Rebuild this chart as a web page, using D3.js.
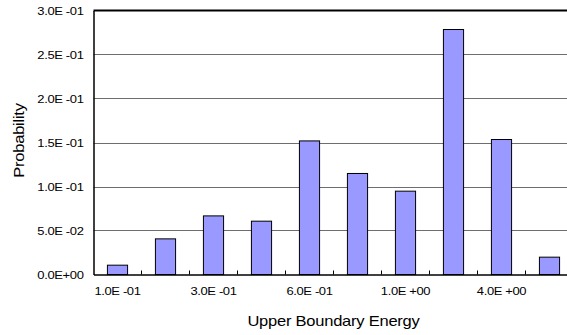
<!DOCTYPE html>
<html>
<head>
<meta charset="utf-8">
<script src="https://cdn.jsdelivr.net/npm/d3@7"></script>
<style>
  body { margin: 0; background: #fff; }
  svg { display: block; font-family: "Liberation Sans", Arial, sans-serif; }
</style>
</head>
<body>
<script>
    var w = 567;
    var h = 335;

    // categories (upper boundary energy), only every other one is labelled
    var categories = ["1.0E -01", "2.0E -01", "3.0E -01", "4.0E -01", "6.0E -01",
                      "8.0E -01", "1.0E +00", "2.0E +00", "4.0E +00", "6.0E +00"];
    var probability = [0.0106, 0.0405, 0.0666, 0.0606, 0.1518,
                       0.1148, 0.0947, 0.2784, 0.1534, 0.0197];
    var yTickValues = [0, 0.05, 0.10, 0.15, 0.20, 0.25, 0.30];
    var yTickLabels = ["0.0E+00", "5.0E -02", "1.0E -01", "1.5E -01", "2.0E -01", "2.5E -01", "3.0E -01"];

    var plotLeft = 93.5, plotRight = 573.5, plotTop = 10.5, plotBottom = 274.5;
    var stretch = 1.18; // the reference text is drawn a bit wide

    var svg = d3.select("body")
                .append("svg")
                .attr("width", w)
                .attr("height", h);

    var x = d3.scaleBand()
              .domain(categories)
              .range([plotLeft, plotRight])
              .paddingInner(0.58)
              .paddingOuter(0.29);

    var y = d3.scaleLinear()
              .domain([0, 0.3])
              .range([plotBottom, plotTop]);

    // gridlines
    svg.append("g")
       .selectAll("line")
       .data(yTickValues.slice(1, -1))
       .enter()
       .append("line")
       .attr("x1", plotLeft)
       .attr("x2", plotRight)
       .attr("y1", d => Math.round(y(d)) + 0.5)
       .attr("y2", d => Math.round(y(d)) + 0.5)
       .attr("stroke", "#6e6e6e")
       .attr("stroke-width", 1.2);

    // top border
    svg.append("line")
       .attr("x1", plotLeft).attr("x2", plotRight)
       .attr("y1", y(0.3)).attr("y2", y(0.3))
       .attr("stroke", "#000")
       .attr("stroke-width", 2);

    // bars
    svg.selectAll("rect.bar")
       .data(probability)
       .enter()
       .append("rect")
       .attr("class", "bar")
       .attr("x", (d, i) => x(categories[i]))
       .attr("width", x.bandwidth())
       .attr("y", d => y(d))
       .attr("height", d => y(0) - y(d))
       .attr("fill", "#9999ff")
       .attr("stroke", "#000")
       .attr("stroke-width", 1);

    // y axis
    var yAxis = d3.axisLeft(y)
                  .tickValues(yTickValues)
                  .tickFormat((d, i) => yTickLabels[i])
                  .tickSize(0)
                  .tickPadding(10);
    var gy = svg.append("g")
                .attr("transform", "translate(" + plotLeft + ",0)")
                .call(yAxis);
    gy.select(".domain").attr("stroke", "#000").attr("stroke-width", 1.5);
    gy.selectAll("text")
      .attr("font-size", 11)
      .attr("font-family", "Liberation Sans, Arial, sans-serif")
      .attr("fill", "#000")
      .attr("letter-spacing", -0.3)
      .attr("x", -10 / stretch)
      .attr("transform", "scale(" + stretch + ",1)");

    // x axis: labels every other category
    var xAxis = d3.axisBottom(x)
                  .tickSize(0)
                  .tickPadding(13)
                  .tickFormat((d, i) => i % 2 === 0 ? d : "");
    var gx = svg.append("g")
                .attr("transform", "translate(0," + plotBottom + ")")
                .call(xAxis);
    gx.select(".domain").attr("stroke", "#000").attr("stroke-width", 1.5);
    gx.selectAll("text")
      .attr("font-size", 11)
      .attr("font-family", "Liberation Sans, Arial, sans-serif")
      .attr("fill", "#000")
      .attr("letter-spacing", -0.3)
      .attr("transform", "scale(" + stretch + ",1)");

    // small tick marks at category boundaries
    svg.append("g")
       .selectAll("line")
       .data(categories.slice(1))
       .enter()
       .append("line")
       .attr("x1", d => x(d) - x.step() * x.paddingInner() / 2)
       .attr("x2", d => x(d) - x.step() * x.paddingInner() / 2)
       .attr("y1", plotBottom - 4)
       .attr("y2", plotBottom)
       .attr("stroke", "#000")
       .attr("stroke-width", 1);

    // axis titles
    svg.append("text")
       .attr("transform", "translate(" + ((plotLeft + plotRight) / 2) + ",326) scale(" + stretch + ",1)")
       .attr("text-anchor", "middle")
       .attr("font-size", 14)
       .attr("letter-spacing", -0.2)
       .text("Upper Boundary Energy");

    svg.append("text")
       .attr("transform", "translate(23.5," + ((plotTop + plotBottom) / 2 - 2) + ") rotate(-90) scale(" + stretch + ",1)")
       .attr("text-anchor", "middle")
       .attr("font-size", 14)
       .attr("letter-spacing", -0.2)
       .text("Probability");
</script>
</body>
</html>
